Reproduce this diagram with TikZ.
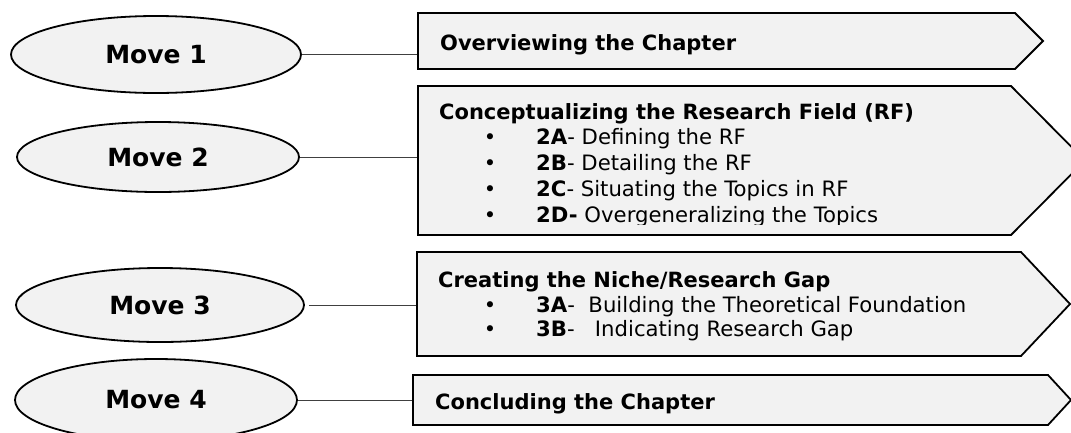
\documentclass[tikz,border=0pt]{standalone}
\usepackage{fontspec}
\setmainfont{DejaVu Sans}
\usetikzlibrary{shapes.geometric,calc}
\definecolor{shapefill}{HTML}{F2F2F2}
\definecolor{linkgray}{HTML}{404040}
\tikzset{
  movebox/.style={ellipse, draw=black, line width=1.8pt, fill=shapefill, inner sep=0pt,
    font=\fontsize{25}{30}\selectfont\bfseries},
  body/.style={inner sep=0pt, outer sep=0pt, anchor=north west},
  outline/.style={draw=black, line width=1.8pt, fill=shapefill, line join=miter},
  link/.style={draw=linkgray, line width=1pt},
  title/.style={anchor=base west, inner sep=0pt, font=\fontsize{21}{25}\selectfont\bfseries},
  item/.style={anchor=base west, inner sep=0pt, font=\fontsize{21.2}{25}\selectfont},
  dot/.style={anchor=base, inner sep=0pt, font=\fontsize{21}{25}\selectfont},
}
\begin{document}
\begin{tikzpicture}[x=1pt,y=-1pt]
\useasboundingbox (0,0) rectangle (1071,432);
\clip (0,0) rectangle (1071,432);

% box bodies (invisible, for anchors)
\node[body, minimum width=597pt, minimum height=56pt] (b1) at (418,13) {};
\node[body, minimum width=593pt, minimum height=149pt] (b2) at (418,86) {};
\node[body, minimum width=604pt, minimum height=104pt] (b3) at (417,252) {};
\node[body, minimum width=635pt, minimum height=50pt] (b4) at (413,375) {};

% ellipses
\node[movebox, minimum width=290pt, minimum height=77pt] (m1) at (156,54.5) {Move 1};
\node[movebox, minimum width=282pt, minimum height=70pt] (m2) at (158,157) {Move 2};
\node[movebox, minimum width=288pt, minimum height=74pt] (m3) at (160,305) {Move 3};
\node[movebox, minimum width=282pt, minimum height=82pt] (m4) at (156,400) {Move 4};

% connectors
\draw[link] (m1.east) -- (m1.east -| b1.west);
\draw[link] (m2.east) -- (m2.east -| b2.west);
\draw[link, shorten <=4pt] (m3.east) -- (m3.east -| b3.west);
\draw[link] (m4.east) -- (m4.east -| b4.west);

% pointed boxes
\draw[outline] (b1.north west) -- (b1.north east) -- ($(b1.east)+(28,0)$) -- (b1.south east) -- (b1.south west) -- cycle;
\draw[outline] (b2.north west) -- (b2.north east) -- ($(b2.east)+(74,0)$) -- (b2.south east) -- (b2.south west) -- cycle;
\draw[outline] (b3.north west) -- (b3.north east) -- ($(b3.east)+(49,0)$) -- (b3.south east) -- (b3.south west) -- cycle;
\draw[outline] (b4.north west) -- (b4.north east) -- ($(b4.east)+(23,0)$) -- (b4.south east) -- (b4.south west) -- cycle;

% texts
\node[title] (t1) at (440,50) {Overviewing the Chapter};

\begin{scope}
\clip (418,86) rectangle (1011,224.5);
\node[title] (t2) at (439,119) {Conceptualizing the Research Field (RF)};
\node[dot] (d2a) at (490,144) {•};
\node[item] (i2a) at (536,144) {\textbf{2A}- Defining the RF};
\node[dot] (d2b) at (490,170) {•};
\node[item] (i2b) at (536,170) {\textbf{2B}- Detailing the RF};
\node[dot] (d2c) at (490,196) {•};
\node[item] (i2c) at (536,196) {\textbf{2C}- Situating the Topics in RF};
\node[dot] (d2d) at (490,222) {•};
\node[item] (i2d) at (536,222) {\textbf{2D-} Overgeneralizing the Topics};
\end{scope}

\node[title] (t3) at (438,287) {Creating the Niche/Research Gap};
\node[dot] (d3a) at (490,312) {•};
\node[item] (i3a) at (536,312) {\textbf{3A}-\ \ Building the Theoretical Foundation};
\node[dot] (d3b) at (490,336) {•};
\node[item] (i3b) at (536,336) {\textbf{3B}-\ \ \ Indicating Research Gap};

\node[title] (t4) at (435,409) {Concluding the Chapter};
\end{tikzpicture}
\end{document}
